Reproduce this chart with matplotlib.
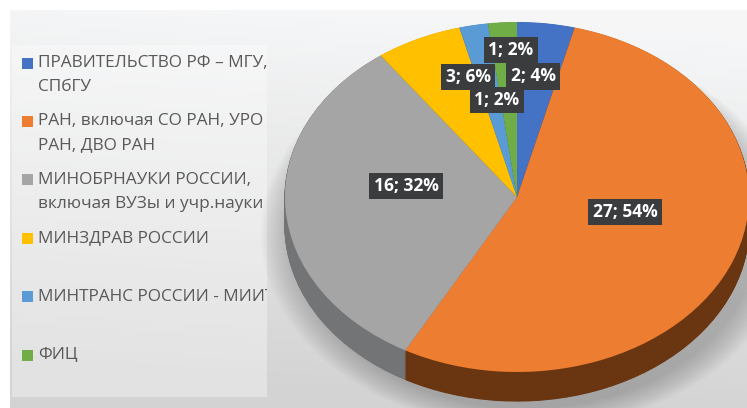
import numpy as np
import matplotlib
matplotlib.use('Agg')
import matplotlib.pyplot as plt
from matplotlib.patches import Rectangle, Ellipse

plt.rcParams['font.family'] = ['Open Sans', 'DejaVu Sans']

# данные
categories = [
    'ПРАВИТЕЛЬСТВО РФ – МГУ,\nСПбГУ',
    'РАН, включая СО РАН, УРО\nРАН, ДВО РАН',
    'МИНОБРНАУКИ РОССИИ,\nвключая ВУЗы и учр.науки',
    'МИНЗДРАВ РОССИИ',
    'МИНТРАНС РОССИИ - МИИТ',
    'ФИЦ',
]
counts = [2, 27, 16, 3, 1, 1]
colors = ['#4472C4', '#ED7D31', '#A5A5A5', '#FFC000', '#5B9BD5', '#70AD47']
side_colors = ['#25407a', '#6a3511', '#727476', '#8a6800', '#2f5f8a', '#3d6a22']

# положение подписей (в единицах радиуса круга)
label_pos = [(0.069, 0.690), (0.466, -0.086), (-0.478, 0.063),
             (-0.211, 0.686), (-0.086, 0.554), (-0.026, 0.840)]

W, H = 747, 408
fig = plt.figure(figsize=(W / 100, H / 100), dpi=100, facecolor='white')

# фон с градиентом
bg = fig.add_axes([0, 0, 1, 1])
bg.set_xlim(0, W)
bg.set_ylim(H, 0)
bg.set_axis_off()
yy = np.linspace(0, 1, 200)[:, None]
xx = np.linspace(0, 1, 300)[None, :]
top = np.array([0.965, 0.968, 0.972])
bot = np.array([0.83, 0.83, 0.83])
t = np.clip(yy * 1.05 - xx * 0.12 + 0.05, 0, 1)
grad = top[None, None, :] * (1 - t[..., None]) + bot[None, None, :] * t[..., None]
bg.imshow(grad, extent=(10, W, H, 10), aspect='auto', zorder=0)

# панель легенды
leg = fig.add_axes([12 / W, 1 - 397 / H, (267 - 12) / W, (397 - 45) / H])
leg.set_xlim(12, 267)
leg.set_ylim(397, 45)
leg.set_axis_off()
leg.add_patch(Rectangle((12, 45), 255, 352, fc='white', alpha=0.35, ec='none'))

for i, (name, c) in enumerate(zip(categories, colors)):
    y0 = 63 + i * 58.4
    leg.add_patch(Rectangle((22, y0 - 5.5), 11, 11, fc=c, ec='none'))
    for j, line in enumerate(name.split('\n')):
        leg.text(38, y0 + j * 24, line, fontsize=12.4, color='#595959',
                 va='center', ha='left', clip_on=True)

# круговая диаграмма (псевдо-3D)
cx, cy, a, b = 517, 197, 232, 175
ax = fig.add_axes([0, 0, 1, 1])
ax.patch.set_alpha(0)

# тень
for k in range(14):
    s = k * 0.022
    ax.add_patch(Ellipse((0.04, -0.21), 2.0 + s, 2.0 + s * 0.8,
                         fc='#6a6a6a', ec='none', alpha=0.035, zorder=1))

depth = 0.166
for d in np.linspace(depth, 0.005, 40):
    wedges, _ = ax.pie(counts, colors=side_colors, startangle=90,
                       counterclock=False, center=(0, -d), radius=1,
                       wedgeprops=dict(linewidth=0.8))
    for w, c in zip(wedges, side_colors):
        w.set_edgecolor(c)
        w.set_zorder(2)

wedges, _ = ax.pie(counts, colors=colors, startangle=90, counterclock=False,
                   radius=1, wedgeprops=dict(linewidth=0))
for w in wedges:
    w.set_zorder(3)

ax.set_aspect('auto')
ax.set_xlim((0 - cx) / a, (W - cx) / a)
ax.set_ylim((cy - H) / b, cy / b)
ax.set_axis_off()

total = sum(counts)
for n, (x, y) in zip(counts, label_pos):
    ax.text(x, y, f'{n}; {round(n / total * 100)}%', fontsize=12.5,
            fontweight='bold', color='white', ha='center', va='center',
            zorder=5,
            bbox=dict(boxstyle='square,pad=0.25', fc='#3b3c3e', ec='none'))

fig.savefig('out.png', dpi=100, facecolor='white')
